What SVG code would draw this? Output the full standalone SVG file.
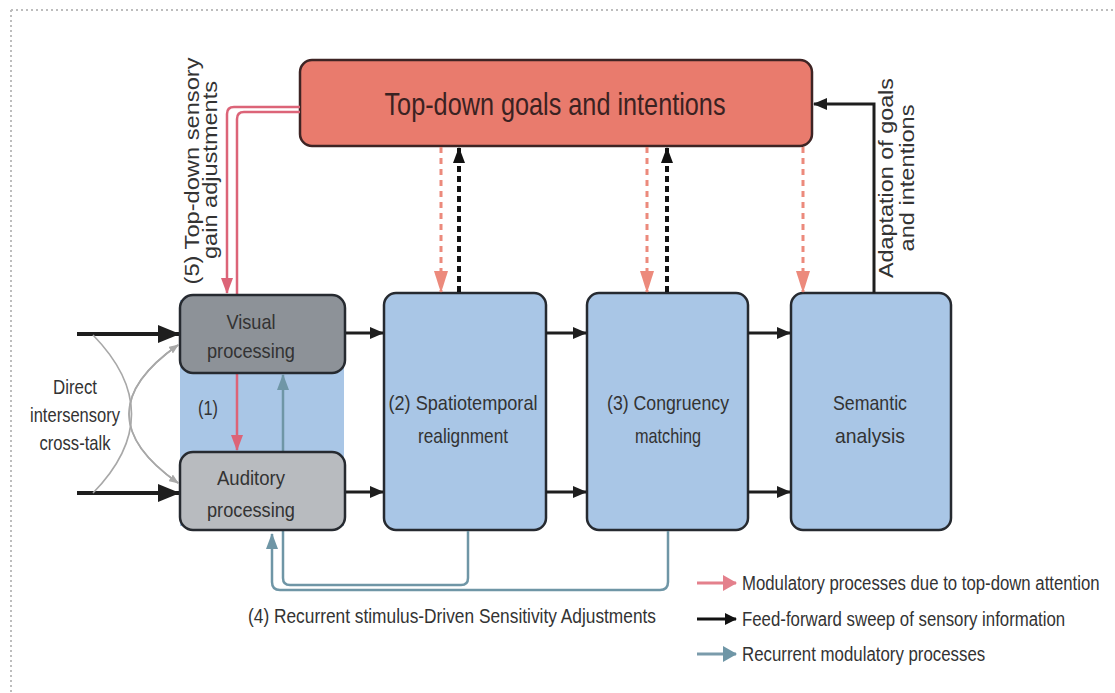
<svg xmlns="http://www.w3.org/2000/svg" width="1115" height="693" viewBox="0 0 1115 693">
<defs>
<style>
text{font-family:"Liberation Sans",Arial,Helvetica,sans-serif;fill:#333;}
.lbl{font-size:21px;text-anchor:middle;}
.title{font-size:32px;text-anchor:middle;fill:#3a2222;}
.box{stroke:#262a30;stroke-width:2.5;}
.blue{fill:#a9c6e6;}
.ff{fill:none;stroke:#1e1e1e;stroke-width:3;}
.red{fill:none;stroke:#dc6478;stroke-width:2.5;}
.teal{fill:none;stroke:#6f96a6;stroke-width:2.5;}
.rdash{fill:none;stroke:#ec8a7c;stroke-width:3;stroke-dasharray:6 5;}
.kdash{fill:none;stroke:#111;stroke-width:4;stroke-dasharray:6 4;}
.gray{fill:none;stroke:#a8a8a8;stroke-width:1.6;}
.leg{font-size:21px;}
</style>
<marker id="ak" markerUnits="userSpaceOnUse" markerWidth="14" markerHeight="12" refX="13" refY="6" orient="auto"><path d="M0,0 L14,6 L0,12 z" fill="#1e1e1e"/></marker>
<marker id="akBig" markerUnits="userSpaceOnUse" markerWidth="22" markerHeight="18" refX="21" refY="9" orient="auto"><path d="M0,0 L22,9 L0,18 z" fill="#1e1e1e"/></marker>
<marker id="akd" markerUnits="userSpaceOnUse" markerWidth="16" markerHeight="12" refX="15" refY="6" orient="auto"><path d="M0,0 L16,6 L0,12 z" fill="#111"/></marker>
<marker id="ar" markerUnits="userSpaceOnUse" markerWidth="16" markerHeight="12" refX="15" refY="6" orient="auto"><path d="M0,0 L16,6 L0,12 z" fill="#dc6478"/></marker>
<marker id="ars" markerUnits="userSpaceOnUse" markerWidth="22" markerHeight="14" refX="21" refY="7" orient="auto"><path d="M0,0 L22,7 L0,14 z" fill="#ec8a7c"/></marker>
<marker id="at" markerUnits="userSpaceOnUse" markerWidth="16" markerHeight="12" refX="15" refY="6" orient="auto"><path d="M0,0 L16,6 L0,12 z" fill="#6f96a6"/></marker>
<marker id="ag" markerUnits="userSpaceOnUse" markerWidth="10" markerHeight="8" refX="9" refY="4" orient="auto"><path d="M0,0 L10,4 L0,8 z" fill="#a8a8a8"/></marker>
<marker id="alr" markerUnits="userSpaceOnUse" markerWidth="14" markerHeight="16" refX="13" refY="8" orient="auto"><path d="M0,0 L14,8 L0,16 z" fill="#e4808c"/></marker>
<marker id="alt" markerUnits="userSpaceOnUse" markerWidth="14" markerHeight="16" refX="13" refY="8" orient="auto"><path d="M0,0 L14,8 L0,16 z" fill="#6f96a6"/></marker>
<marker id="alk" markerUnits="userSpaceOnUse" markerWidth="12" markerHeight="12" refX="11" refY="6" orient="auto"><path d="M0,0 L12,6 L0,12 z" fill="#111"/></marker>
</defs>
<rect width="1115" height="693" fill="#fff"/>
<g id="frame" fill="none" stroke="#bdbdbd" stroke-width="2" stroke-dasharray="2 3">
<line x1="11" y1="10" x2="1115" y2="10"/>
<line x1="11" y1="10" x2="11" y2="693"/>
</g>

<g id="sensory-stage">
<rect x="180" y="300" width="164" height="226" class="blue"/>
<text x="208" y="415" class="lbl" textLength="20" lengthAdjust="spacingAndGlyphs">(1)</text>
</g>

<g id="top-down-goals">
<rect x="300" y="60" width="512" height="86" rx="12" fill="#e97b6d" stroke="#3e2424" stroke-width="2.5"/>
<text x="555" y="115" class="title" textLength="341" lengthAdjust="spacingAndGlyphs">Top-down goals and intentions</text>
</g>

<g id="spatiotemporal">
<rect x="384" y="293" width="162" height="237" rx="12" class="box blue"/>
<text x="463" y="410" class="lbl" textLength="149" lengthAdjust="spacingAndGlyphs">(2) Spatiotemporal</text>
<text x="463" y="443" class="lbl" textLength="90" lengthAdjust="spacingAndGlyphs">realignment</text>
</g>

<g id="congruency">
<rect x="587" y="293" width="161" height="237" rx="12" class="box blue"/>
<text x="668" y="410" class="lbl" textLength="122" lengthAdjust="spacingAndGlyphs">(3) Congruency</text>
<text x="668" y="443" class="lbl" textLength="66" lengthAdjust="spacingAndGlyphs">matching</text>
</g>

<g id="semantic">
<rect x="791" y="293" width="160" height="237" rx="12" class="box blue"/>
<text x="870" y="410" class="lbl" textLength="74" lengthAdjust="spacingAndGlyphs">Semantic</text>
<text x="870" y="443" class="lbl" textLength="70" lengthAdjust="spacingAndGlyphs">analysis</text>
</g>

<g id="connectors">
<!-- inputs -->
<line x1="77" y1="334" x2="179" y2="334" stroke="#1e1e1e" stroke-width="4" marker-end="url(#akBig)"/>
<line x1="77" y1="493" x2="179" y2="493" stroke="#1e1e1e" stroke-width="4" marker-end="url(#akBig)"/>
<!-- cross-talk -->
<path d="M93,335 Q170,414 93,493" class="gray"/>
<path d="M178,483 Q80,414 178,345" class="gray" marker-end="url(#ag)"/>
<path d="M178,345 Q80,414 178,483" class="gray" marker-end="url(#ag)"/>
<!-- feed-forward -->
<line x1="345" y1="333" x2="383" y2="333" class="ff" marker-end="url(#ak)"/>
<line x1="345" y1="492" x2="383" y2="492" class="ff" marker-end="url(#ak)"/>
<line x1="546" y1="333" x2="586" y2="333" class="ff" marker-end="url(#ak)"/>
<line x1="546" y1="492" x2="586" y2="492" class="ff" marker-end="url(#ak)"/>
<line x1="748" y1="333" x2="790" y2="333" class="ff" marker-end="url(#ak)"/>
<line x1="748" y1="492" x2="790" y2="492" class="ff" marker-end="url(#ak)"/>
<!-- adaptation -->
<path d="M874,293 V104 H814" class="ff" marker-end="url(#ak)"/>
<!-- dashed -->
<line x1="441" y1="147" x2="441" y2="292" class="rdash" marker-end="url(#ars)"/>
<line x1="459" y1="292" x2="459" y2="148" class="kdash" marker-end="url(#akd)"/>
<line x1="647" y1="147" x2="647" y2="292" class="rdash" marker-end="url(#ars)"/>
<line x1="667" y1="292" x2="667" y2="148" class="kdash" marker-end="url(#akd)"/>
<line x1="803" y1="147" x2="803" y2="292" class="rdash" marker-end="url(#ars)"/>
<!-- top-down gain -->
<path d="M300,107 H234 Q227,107 227,114 V293" class="red" marker-end="url(#ar)"/>
<path d="M300,112 H244 Q237,112 237,119 V450" class="red" marker-end="url(#ar)"/>
<!-- recurrent -->
<path d="M668,531 V582 Q668,590 660,590 H280 Q272,590 272,582 V534" class="teal" marker-end="url(#at)"/>
<path d="M468,531 V578 Q468,585 461,585 H290 Q283,585 283,578 V375" class="teal" marker-end="url(#at)"/>
</g>

<g id="visual">
<rect x="180" y="295" width="165" height="78" rx="13" fill="#8d9298" class="box"/>
<text x="251" y="329" class="lbl" textLength="49" lengthAdjust="spacingAndGlyphs">Visual</text>
<text x="251" y="358" class="lbl" textLength="88" lengthAdjust="spacingAndGlyphs">processing</text>
</g>

<g id="auditory">
<rect x="180" y="452" width="165" height="78" rx="13" fill="#b8bbbf" class="box"/>
<text x="251" y="485" class="lbl" textLength="68" lengthAdjust="spacingAndGlyphs">Auditory</text>
<text x="251" y="517" class="lbl" textLength="88" lengthAdjust="spacingAndGlyphs">processing</text>
</g>

<g id="labels">
<text x="75" y="394" class="lbl" textLength="44" lengthAdjust="spacingAndGlyphs">Direct</text>
<text x="75" y="422" class="lbl" textLength="90" lengthAdjust="spacingAndGlyphs">intersensory</text>
<text x="75" y="450" class="lbl" textLength="71" lengthAdjust="spacingAndGlyphs">cross-talk</text>
<text transform="translate(199,171) rotate(-90)" class="lbl" textLength="227" lengthAdjust="spacingAndGlyphs">(5) Top-down sensory</text>
<text transform="translate(217,170) rotate(-90)" class="lbl" textLength="178" lengthAdjust="spacingAndGlyphs">gain adjustments</text>
<text transform="translate(893,178) rotate(-90)" class="lbl" textLength="200" lengthAdjust="spacingAndGlyphs">Adaptation of goals</text>
<text transform="translate(914,178) rotate(-90)" class="lbl" textLength="147" lengthAdjust="spacingAndGlyphs">and intentions</text>
<text x="452" y="623" class="lbl" textLength="408" lengthAdjust="spacingAndGlyphs">(4) Recurrent stimulus-Driven Sensitivity Adjustments</text>
</g>

<g id="legend">
<line x1="697" y1="583" x2="736" y2="583" stroke="#e4808c" stroke-width="3" marker-end="url(#alr)"/>
<line x1="697" y1="619" x2="736" y2="619" stroke="#111" stroke-width="3" marker-end="url(#alk)"/>
<line x1="697" y1="654" x2="736" y2="654" stroke="#7a9bab" stroke-width="3" marker-end="url(#alt)"/>
<text transform="translate(742,590) scale(0.8,1)" class="leg" textLength="447" lengthAdjust="spacingAndGlyphs">Modulatory processes due to top-down attention</text>
<text transform="translate(742,626) scale(0.8,1)" class="leg" textLength="404" lengthAdjust="spacingAndGlyphs">Feed-forward sweep of sensory information</text>
<text transform="translate(742,661) scale(0.8,1)" class="leg" textLength="304" lengthAdjust="spacingAndGlyphs">Recurrent modulatory processes</text>
</g>
</svg>
